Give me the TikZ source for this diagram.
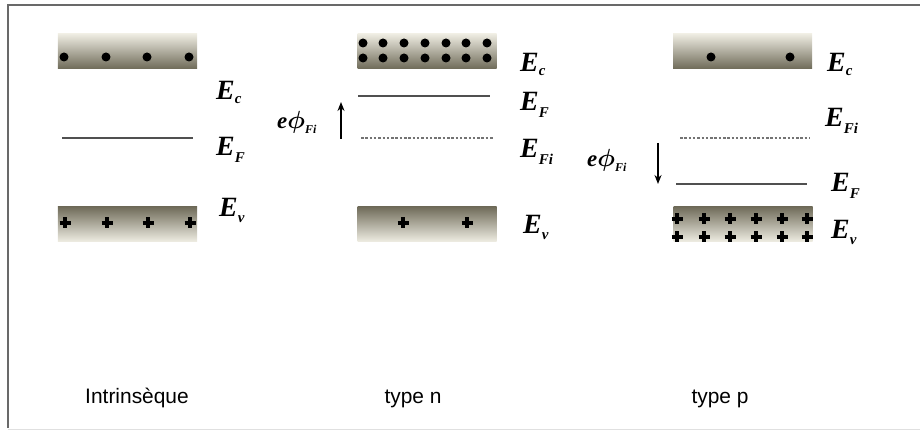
\documentclass[tikz,border=0pt]{standalone}
\usepackage{bm}
\usepackage{fontspec}
\setmainfont{Liberation Serif}
\newfontfamily\captionfont{Liberation Sans}
\usetikzlibrary{arrows.meta}

\definecolor{bandlight}{RGB}{240,238,228}
\definecolor{banddark}{RGB}{112,108,90}
\definecolor{levelgray}{RGB}{80,80,80}
\definecolor{framegray}{RGB}{105,105,105}

% energy label: bold italic letter with a lowered subscript (#3 = drop)
\newcommand{\enlabel}[3]{{\fontsize{28}{28}\selectfont\bfseries\itshape #1}\raisebox{-#3}{\fontsize{15}{15}\selectfont\bfseries\itshape #2}}
\newcommand{\potlabel}{{\fontsize{23}{23}\selectfont\bfseries\itshape e$\bm{\phi}$}\raisebox{-5bp}{\fontsize{12}{12}\selectfont\bfseries\itshape Fi}}

\tikzset{
  band/.style={minimum width=139bp, minimum height=35bp, inner sep=0pt, draw=none},
  condband/.style={band, top color=bandlight, bottom color=banddark},
  valband/.style={band, top color=banddark, bottom color=bandlight},
  electron/.style={fill=black},
  hole/.pic={\draw[line width=3.2bp, black] (-5.5,0) -- (5.5,0) (0,-5.5) -- (0,5.5);},
  fermi/.style={draw=levelgray, line width=1.8bp},
  intrinsic/.style={draw=levelgray!80, line width=1.4bp, dash pattern=on 2.5bp off 1.8bp},
  potarrow/.style={draw=black, line width=1.5bp, -{Stealth[length=9bp, width=7bp]}},
  elab/.style={anchor=base west, inner sep=0pt},
  caption/.style={anchor=base, inner sep=0pt, font=\captionfont\fontsize{21}{21}\selectfont}
}

\begin{document}
\begin{tikzpicture}[x=1bp, y=-1bp]
\useasboundingbox (0,0) rectangle (920,434);

% frame
\draw[framegray, line width=2bp] (8,428) -- (8,5) -- (920,5);
\draw[black!12, line width=1bp] (8,429) -- (920,429);

% ---------------- intrinsic ----------------
\node[condband] (icb) at (127.5,51) {};
\foreach \x in {64,106,147,189} \fill[electron] (\x,57) circle[radius=4.5bp];
\node[valband] (ivb) at (127.5,224.5) {};
\foreach \x in {65,107,148,190} \pic at (\x,223) {hole};
\coordinate (iFa) at (62,138);
\coordinate (iFb) at (193,138);
\draw[fermi] (iFa) -- (iFb);
\node[elab] (iEc) at (216,100) {\enlabel{E}{c}{4bp}};
\node[elab] (iEF) at (216,156) {\enlabel{E}{F}{7bp}};
\node[elab] (iEv) at (219,217) {\enlabel{E}{v}{6bp}};
\node[caption] (icap) at (137,403) {Intrinsèque};

% ---------------- type n ----------------
\node[condband] (ncb) at (427,51) {};
\foreach \x in {363,383,404,425,446,466,487}
  \foreach \y in {43,58} \fill[electron] (\x,\y) circle[radius=4.5bp];
\node[valband] (nvb) at (427,224.5) {};
\foreach \x in {403,467} \pic at (\x,223) {hole};
\coordinate (nFa) at (358,96);
\coordinate (nFb) at (490,96);
\draw[fermi] (nFa) -- (nFb);
\coordinate (nFia) at (361,138);
\coordinate (nFib) at (493,138);
\draw[intrinsic] (nFia) -- (nFib);
\coordinate (nAa) at (341,139);
\coordinate (nAb) at (341,102);
\draw[potarrow] (nAa) -- (nAb);
\node[elab] (nphi) at (277,129) {\potlabel};
\node[elab] (nEc) at (520,72) {\enlabel{E}{c}{4bp}};
\node[elab] (nEF) at (520,111) {\enlabel{E}{F}{7bp}};
\node[elab] (nEFi) at (520,158) {\enlabel{E}{Fi}{7bp}};
\node[elab] (nEv) at (523,234) {\enlabel{E}{v}{6bp}};
\node[caption] (ncap) at (413,403) {type n};

% ---------------- type p ----------------
\node[condband] (pcb) at (742.5,51) {};
\foreach \x in {711,790} \fill[electron] (\x,57) circle[radius=4.5bp];
\node[valband] (pvb) at (743,224.5) {};
\foreach \x in {677,704,730,756,782,807}
  \foreach \y in {219,237} \pic at (\x,\y) {hole};
\coordinate (pFia) at (680,138);
\coordinate (pFib) at (810,138);
\draw[intrinsic] (pFia) -- (pFib);
\coordinate (pFa) at (676,184);
\coordinate (pFb) at (807,184);
\draw[fermi] (pFa) -- (pFb);
\coordinate (pAa) at (658,143);
\coordinate (pAb) at (658,184);
\draw[potarrow] (pAa) -- (pAb);
\node[elab] (pphi) at (587,167) {\potlabel};
\node[elab] (pEc) at (827,72) {\enlabel{E}{c}{4bp}};
\node[elab] (pEFi) at (825,127) {\enlabel{E}{Fi}{7bp}};
\node[elab] (pEF) at (831,192) {\enlabel{E}{F}{7bp}};
\node[elab] (pEv) at (831,239) {\enlabel{E}{v}{6bp}};
\node[caption] (pcap) at (720,403) {type p};
\end{tikzpicture}
\end{document}
